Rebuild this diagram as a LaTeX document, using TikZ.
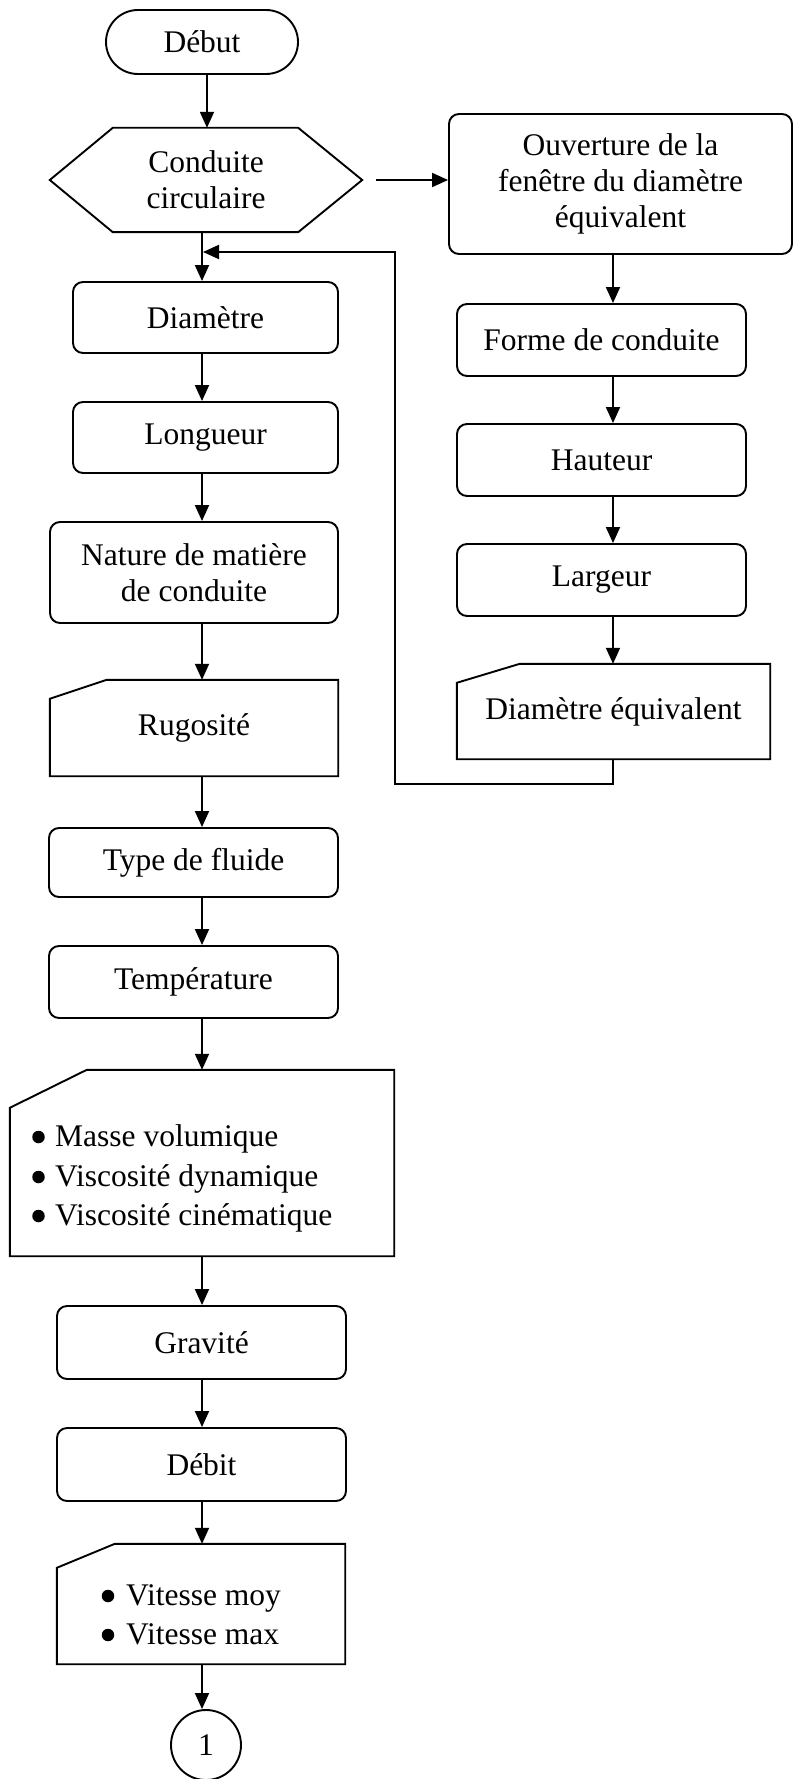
\documentclass[tikz,border=0pt]{standalone}
\usepackage{fontspec}
\setmainfont{Liberation Serif}
\usetikzlibrary{arrows.meta,calc}
\begin{document}
\begin{tikzpicture}[x=1pt,y=-1pt,
  line/.style={line width=1.9pt, line join=miter},
  arr/.style={line width=1.9pt,-{Triangle[length=16pt,width=14pt]}},
  base/.style={font=\fontsize{31.5}{36}\selectfont, align=center, inner sep=0pt},
  proc/.style={base, draw, line width=1.9pt, rounded corners=10pt, rectangle},
  frame/.style={base, rectangle},
  bul/.style={base, anchor=base west},
  dot/.style={circle, fill=black, inner sep=0pt, minimum size=12.5pt},
]
\useasboundingbox (0,0) rectangle (793,1779);
\coordinate (cx) at (202,0);
\coordinate (dx) at (207,0);
\coordinate (rx) at (613,0);

% left column
\node[proc, rounded corners=32pt, minimum width=192pt, minimum height=64pt] (debut) at (202,42) {Début};
\node[frame, minimum width=312pt, minimum height=104pt] (hex) at (206,180) {Conduite\\circulaire};
\draw[line] (hex.west) -- ([xshift=63pt]hex.north west) -- ([xshift=-64pt]hex.north east) -- (hex.east) -- ([xshift=-64pt]hex.south east) -- ([xshift=63pt]hex.south west) -- cycle;

\node[proc, minimum width=265pt, minimum height=71pt] (diam) at (205.5,317.5) {Diamètre};
\node[proc, minimum width=265pt, minimum height=71pt] (long) at (205.5,437.5) {Longueur};
\node[proc, minimum width=288pt, minimum height=101pt] (nat) at (194,572.5) {Nature de matière\\de conduite};

\node[frame, minimum width=288pt, minimum height=96pt] (rug) at (194,728) {Rugosité};
\draw[line] ([yshift=-19pt]rug.north west) -- ([xshift=57pt]rug.north west) -- (rug.north east) -- (rug.south east) -- (rug.south west) -- cycle;

\node[proc, minimum width=289pt, minimum height=69pt] (type) at (193.5,862.5) {Type de fluide};
\node[proc, minimum width=289pt, minimum height=72pt] (temp) at (193.5,982) {Température};

\node[frame, minimum width=384pt, minimum height=186pt] (props) at (202,1163) {};
\draw[line] ([yshift=-38pt]props.north west) -- ([xshift=77pt]props.north west) -- (props.north east) -- (props.south east) -- (props.south west) -- cycle;
\node[dot] (pb1) at (38.5,1137) {};
\node[dot] (pb2) at (38.5,1177) {};
\node[dot] (pb3) at (38.5,1216) {};
\node[bul] (pt1) at (55,1146) {Masse volumique};
\node[bul] (pt2) at (55,1186) {Viscosité dynamique};
\node[bul] (pt3) at (55,1225) {Viscosité cinématique};

\node[proc, minimum width=289pt, minimum height=73pt] (grav) at (201.5,1342.5) {Gravité};
\node[proc, minimum width=289pt, minimum height=73pt] (debit) at (201.5,1464.5) {Débit};

\node[frame, minimum width=288pt, minimum height=120pt] (vit) at (201,1604) {};
\draw[line] ([yshift=-24pt]vit.north west) -- ([xshift=58pt]vit.north west) -- (vit.north east) -- (vit.south east) -- (vit.south west) -- cycle;
\node[dot] (vb1) at (108,1596) {};
\node[dot] (vb2) at (108,1635) {};
\node[bul] (vt1) at (126,1605) {Vitesse moy};
\node[bul] (vt2) at (126,1644) {Vitesse max};

\node[base, draw, line width=1.9pt, circle, minimum size=70pt] (circ) at (206,1745) {1};

% right column
\node[proc, minimum width=343pt, minimum height=140pt] (ouv) at (620.5,184) {Ouverture de la\\fenêtre du diamètre\\équivalent};
\node[proc, minimum width=289pt, minimum height=72pt] (forme) at (601.5,340) {Forme de conduite};
\node[proc, minimum width=289pt, minimum height=72pt] (haut) at (601.5,460) {Hauteur};
\node[proc, minimum width=289pt, minimum height=72pt] (larg) at (601.5,580) {Largeur};
\node[frame, minimum width=313pt, minimum height=95pt] (deq) at (613.5,711.5) {Diamètre équivalent};
\draw[line] ([yshift=-19pt]deq.north west) -- ([xshift=63pt]deq.north west) -- (deq.north east) -- (deq.south east) -- (deq.south west) -- cycle;

\coordinate (lp) at (395,784);
\coordinate (j) at (203,252);

% connectors
\draw[arr] (debut.south -| dx) -- (hex.north -| dx);
\draw[arr] (hex.south -| cx) -- (diam.north -| cx);
\draw[arr] (diam.south -| cx) -- (long.north -| cx);
\draw[arr] (long.south -| cx) -- (nat.north -| cx);
\draw[arr] (nat.south -| cx) -- (rug.north -| cx);
\draw[arr] (rug.south -| cx) -- (type.north -| cx);
\draw[arr] (type.south -| cx) -- (temp.north -| cx);
\draw[arr] (temp.south -| cx) -- (props.north -| cx);
\draw[arr] (props.south -| cx) -- (grav.north -| cx);
\draw[arr] (grav.south -| cx) -- (debit.north -| cx);
\draw[arr] (debit.south -| cx) -- (vit.north -| cx);
\draw[arr] (vit.south -| cx) -- (circ.north -| cx);

\draw[arr] ([xshift=14pt]hex.east) -- (ouv.west |- hex.east);
\draw[arr] (ouv.south -| rx) -- (forme.north -| rx);
\draw[arr] (forme.south -| rx) -- (haut.north -| rx);
\draw[arr] (haut.south -| rx) -- (larg.north -| rx);
\draw[arr] (larg.south -| rx) -- (deq.north -| rx);
\draw[arr] (deq.south -| rx) |- (lp) |- (j);
\end{tikzpicture}
\end{document}
